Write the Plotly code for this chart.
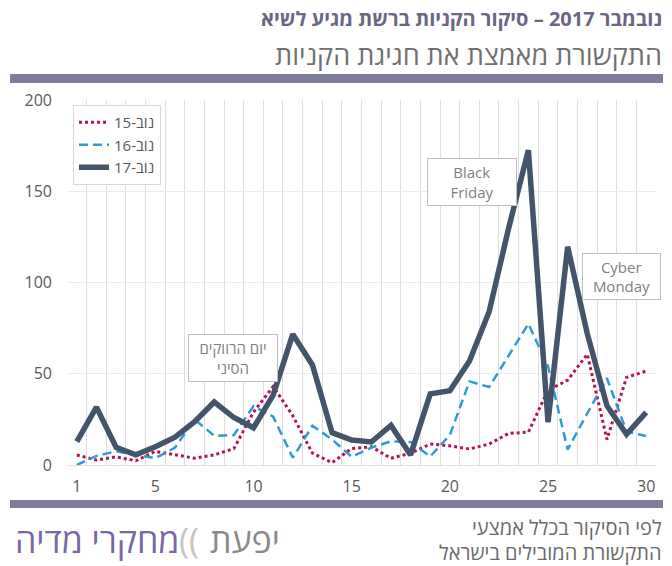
import plotly.graph_objects as go

days = list(range(1, 31))
series_names = ["נוב-15", "נוב-16", "נוב-17"]
nov15 = [5.5, 2.7, 4.5, 2.3, 7.5, 5.5, 3.7, 5.5, 9, 29, 43, 27, 6.5, 1.3, 9,
         10, 3.7, 6.5, 11.5, 10.5, 8.8, 11.5, 17.3, 18, 41, 46.5, 60.7, 14, 48, 51.5]
nov16 = [0, 5, 7.5, 5.5, 3.7, 9.5, 25, 16, 16.4, 32.3, 26.5, 4, 21.5, 14, 4.5,
         9.5, 13, 12.6, 4.7, 16.4, 45.8, 42.7, 60, 77.4, 54, 8.5, 28.3, 47.6, 18.3, 15.9]
nov17 = [12.8, 31.7, 9.7, 5.6, 10, 15.2, 23.7, 34.5, 26, 20.4, 38.3, 71.7, 54.8, 17.7, 13.7,
         12.6, 21.7, 5.5, 39, 40.7, 57, 84, 130, 172.5, 23.5, 119.6, 72, 32.5, 16.8, 28.8]
x_tickvals = [1, 5, 10, 15, 20, 25, 30]
y_tickvals = [0, 50, 100, 150, 200]

events = [
    ("יום הרווקים<br>הסיני", 8.93, 58.6, 88, 46),
    ("Black<br>Friday", 21.12, 155, 88, 46),
    ("Cyber<br>Monday", 28.72, 103.5, 77, 45),
]

title = "נובמבר 2017 – סיקור הקניות ברשת מגיע לשיא"
subtitle = "התקשורת מאמצת את חגיגת הקניות"
footer = ["לפי הסיקור בכלל אמצעי", "התקשורת המובילים בישראל"]

W, H = 672, 566
L, R, T, B = 67, 656, 100, 465
FONT = "Open Sans, Liberation Sans, DejaVu Sans, sans-serif"


def px_x(p):
    return (p - L) / (R - L)


def px_y(p):
    return (B - p) / (B - T)


fig = go.Figure()
styles = [
    dict(color="#b8134f", width=3, dash="dot"),
    dict(color="#2f9bd3", width=2.5, dash="9px,5px"),
    dict(color="#44546a", width=5.5, dash="solid"),
]
for name, vals, st in zip(series_names, [nov15, nov16, nov17], styles):
    fig.add_trace(go.Scatter(x=days, y=vals, mode="lines", name=name, line=st))

for text, xv, yv, w, h in events:
    fig.add_annotation(x=xv, y=yv, xref="x", yref="y", text=text, showarrow=False,
                       font=dict(family=FONT, size=15, color="#7f7f7f"),
                       bgcolor="white", bordercolor="#bfbfbf", borderwidth=1,
                       width=w, height=h, borderpad=0)

fig.add_annotation(x=px_x(664), y=px_y(19), xref="paper", yref="paper", text="<b>" + title + "</b>",
                   showarrow=False, xanchor="right", yanchor="middle",
                   font=dict(family=FONT, size=20, color="#6a6782"))
fig.add_annotation(x=px_x(664), y=px_y(55), xref="paper", yref="paper", text=subtitle,
                   showarrow=False, xanchor="right", yanchor="middle",
                   font=dict(family=FONT, size=27, color="#707070"))
for i, line in enumerate(footer):
    fig.add_annotation(x=px_x(664), y=px_y(527 + i * 25), xref="paper", yref="paper", text=line,
                       showarrow=False, xanchor="right", yanchor="middle",
                       font=dict(family=FONT, size=20, color="#6b6b6b"))

# logo
fig.add_annotation(x=px_x(282), y=px_y(540), xref="paper", yref="paper", text="יפעת",
                   showarrow=False, xanchor="right", yanchor="middle",
                   font=dict(family=FONT, size=34, color="#8a8a8a"))
fig.add_annotation(x=px_x(201), y=px_y(540), xref="paper", yref="paper", text="((",
                   showarrow=False, xanchor="right", yanchor="middle",
                   font=dict(family=FONT, size=34, color="#c4c4c4"))
fig.add_annotation(x=px_x(181), y=px_y(540), xref="paper", yref="paper", text="מחקרי מדיה",
                   showarrow=False, xanchor="right", yanchor="middle",
                   font=dict(family=FONT, size=34, color="#7668a8"))

for y0, y1 in [(74, 83), (500, 508)]:
    fig.add_shape(type="rect", xref="paper", yref="paper", x0=px_x(10), x1=px_x(663),
                  y0=px_y(y1), y1=px_y(y0), fillcolor="#7f7d9c", line=dict(width=0), layer="below")

fig.update_layout(
    width=W, height=H,
    margin=dict(l=L, r=W - R, t=T, b=H - B),
    paper_bgcolor="white", plot_bgcolor="white",
    font=dict(family=FONT, color="#595959"),
    xaxis=dict(range=[0.5, 30.5], tickvals=x_tickvals, showgrid=False,
               minor=dict(tick0=0.5, dtick=1, showgrid=True, gridcolor="#dedede", gridwidth=1, ticks=""),
               zeroline=False, showline=False, ticks="",
               tickfont=dict(size=16, color="#595959"), ticklabelstandoff=10),
    yaxis=dict(range=[0, 200], tickvals=y_tickvals, showgrid=True, gridcolor="#ececec",
               zeroline=True, zerolinecolor="#e2e2e2", zerolinewidth=1, showline=False, ticks="",
               tickfont=dict(size=16, color="#595959"), ticklabelstandoff=14),
    legend=dict(x=px_x(73), y=px_y(105), xanchor="left", yanchor="top",
                bgcolor="white", bordercolor="#d9d9d9", borderwidth=1,
                font=dict(family=FONT, size=15, color="#595959"), itemwidth=30),
    showlegend=True,
)

fig.write_html("out.html", config={"displayModeBar": False},
               post_script="document.body.style.margin='0';document.body.style.overflow='hidden';")
